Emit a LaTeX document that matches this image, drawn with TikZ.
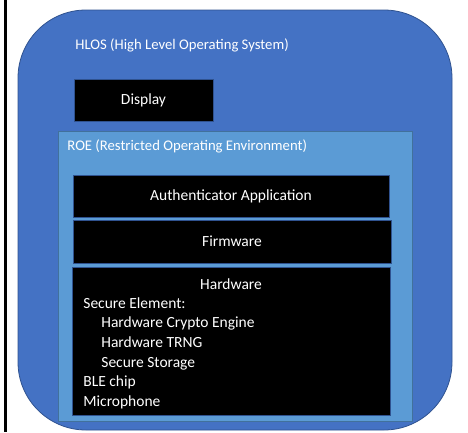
\documentclass[tikz,border=0pt]{standalone}
\usepackage{fontspec}
\setmainfont{Carlito}
\definecolor{hlosblue}{HTML}{4472C4}
\definecolor{roeblue}{HTML}{5B9BD5}
\definecolor{edgeblue}{HTML}{2F528F}
\definecolor{roeedge}{HTML}{41719C}

\begin{document}
\begin{tikzpicture}[x=1pt, y=-1pt, line width=0.8pt,
  box/.style={fill=black, draw=edgeblue, text=white, inner sep=0pt, font=\fontsize{15.5}{19.7}\selectfont},
  caption/.style={text=white, inner sep=0pt, anchor=west, font=\fontsize{14.7}{18}\selectfont}]

\useasboundingbox (0,0) rectangle (468,432);
\fill[black] (4,0) rectangle (7,432);

\node[fill=hlosblue, draw=edgeblue, rounded corners=68pt, minimum width=434pt, minimum height=420pt] (HLOS) at (235,220) {};
\node[caption] (HLOStext) at (75,45) {HLOS (High Level Operating System)};

\node[box, minimum width=139pt, minimum height=42pt] (Display) at (143.5,100) {Display};

\node[fill=roeblue, draw=roeedge, minimum width=354pt, minimum height=290pt] (ROE) at (235,276) {};
\node[caption] (ROEtext) at (67,146) {ROE (Restricted Operating Environment)};

\node[box, minimum width=316pt, minimum height=42pt] (Auth) at (231,196) {Authenticator Application};
\node[box, minimum width=318pt, minimum height=43pt] (FW) at (232,241.5) {Firmware};
\node[box, minimum width=318pt, minimum height=148pt] (HW) at (231,341) {};

\node[box, draw=none, anchor=center] (HWtitle) at (231,284) {Hardware};
\node[box, draw=none, anchor=north west, align=left] (HWlist) at (83,297) {Secure Element:\\
\hspace{18pt}Hardware Crypto Engine\\
\hspace{18pt}Hardware TRNG\\
\hspace{18pt}Secure Storage\\
BLE chip\\
Microphone};

\end{tikzpicture}
\end{document}
